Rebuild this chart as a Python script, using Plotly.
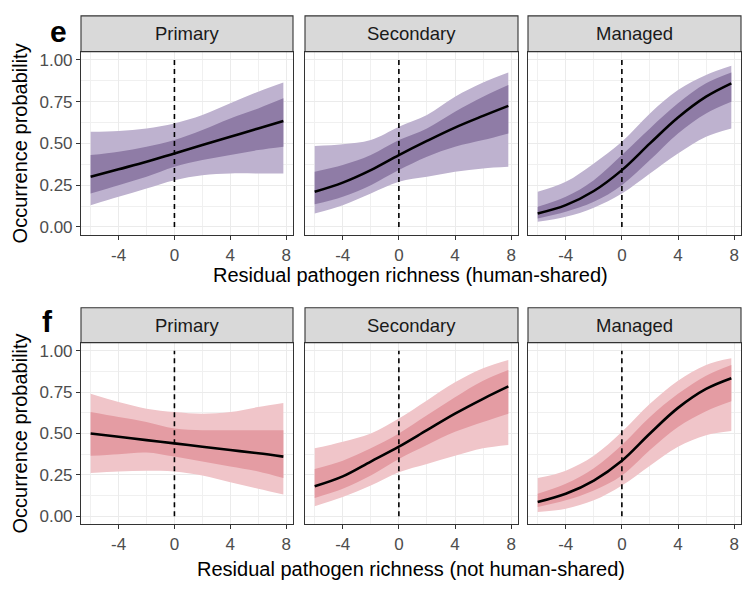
import plotly.graph_objects as go

# ---------------- data ----------------
x_vals = [-6, -4, -2, 0, 2, 4, 6, 7.8]
habitats = ["Primary", "Secondary", "Managed"]
x_ticks = [-4, 0, 4, 8]
y_ticks = [0.0, 0.25, 0.5, 0.75, 1.0]
y_tick_labels = ["0.00", "0.25", "0.50", "0.75", "1.00"]

# panel e (human-shared)
e_primary_fit = [0.30, 0.345, 0.39, 0.44, 0.49, 0.54, 0.59, 0.635]
e_primary_in_lo = [0.20, 0.25, 0.30, 0.36, 0.40, 0.43, 0.46, 0.48]
e_primary_in_hi = [0.43, 0.45, 0.48, 0.52, 0.58, 0.65, 0.71, 0.77]
e_primary_out_lo = [0.13, 0.18, 0.23, 0.28, 0.31, 0.32, 0.32, 0.32]
e_primary_out_hi = [0.57, 0.575, 0.59, 0.62, 0.67, 0.74, 0.81, 0.865]

e_secondary_fit = [0.21, 0.265, 0.34, 0.43, 0.515, 0.595, 0.665, 0.725]
e_secondary_in_lo = [0.135, 0.18, 0.25, 0.34, 0.42, 0.48, 0.52, 0.56]
e_secondary_in_hi = [0.33, 0.37, 0.43, 0.52, 0.59, 0.69, 0.78, 0.85]
e_secondary_out_lo = [0.08, 0.13, 0.20, 0.27, 0.30, 0.33, 0.35, 0.36]
e_secondary_out_hi = [0.485, 0.495, 0.52, 0.60, 0.67, 0.78, 0.865, 0.925]

e_managed_fit = [0.08, 0.13, 0.215, 0.34, 0.50, 0.655, 0.78, 0.86]
e_managed_in_lo = [0.05, 0.09, 0.15, 0.25, 0.40, 0.56, 0.68, 0.75]
e_managed_in_hi = [0.12, 0.18, 0.28, 0.43, 0.59, 0.74, 0.86, 0.925]
e_managed_out_lo = [0.03, 0.06, 0.115, 0.20, 0.32, 0.44, 0.54, 0.59]
e_managed_out_hi = [0.21, 0.27, 0.38, 0.51, 0.68, 0.82, 0.91, 0.965]

# panel f (not human-shared)
f_primary_fit = [0.50, 0.48, 0.46, 0.44, 0.42, 0.40, 0.38, 0.36]
f_primary_in_lo = [0.365, 0.375, 0.385, 0.36, 0.33, 0.30, 0.27, 0.23]
f_primary_in_hi = [0.63, 0.60, 0.57, 0.53, 0.52, 0.52, 0.52, 0.52]
f_primary_out_lo = [0.26, 0.27, 0.275, 0.27, 0.245, 0.205, 0.165, 0.13]
f_primary_out_hi = [0.74, 0.69, 0.65, 0.63, 0.62, 0.63, 0.66, 0.685]

f_secondary_fit = [0.18, 0.24, 0.33, 0.42, 0.52, 0.62, 0.71, 0.785]
f_secondary_in_lo = [0.11, 0.165, 0.245, 0.345, 0.43, 0.51, 0.57, 0.62]
f_secondary_in_hi = [0.285, 0.335, 0.41, 0.50, 0.61, 0.72, 0.82, 0.885]
f_secondary_out_lo = [0.06, 0.115, 0.185, 0.265, 0.315, 0.365, 0.41, 0.43]
f_secondary_out_hi = [0.41, 0.45, 0.50, 0.59, 0.70, 0.81, 0.895, 0.945]

f_managed_fit = [0.085, 0.135, 0.215, 0.335, 0.50, 0.655, 0.77, 0.835]
f_managed_in_lo = [0.055, 0.095, 0.155, 0.245, 0.40, 0.54, 0.635, 0.695]
f_managed_in_hi = [0.135, 0.195, 0.29, 0.43, 0.60, 0.74, 0.85, 0.915]
f_managed_out_lo = [0.025, 0.045, 0.095, 0.185, 0.305, 0.42, 0.49, 0.515]
f_managed_out_hi = [0.23, 0.275, 0.365, 0.51, 0.68, 0.82, 0.915, 0.955]

panels = [
    (e_primary_fit, e_primary_in_lo, e_primary_in_hi, e_primary_out_lo, e_primary_out_hi),
    (e_secondary_fit, e_secondary_in_lo, e_secondary_in_hi, e_secondary_out_lo, e_secondary_out_hi),
    (e_managed_fit, e_managed_in_lo, e_managed_in_hi, e_managed_out_lo, e_managed_out_hi),
    (f_primary_fit, f_primary_in_lo, f_primary_in_hi, f_primary_out_lo, f_primary_out_hi),
    (f_secondary_fit, f_secondary_in_lo, f_secondary_in_hi, f_secondary_out_lo, f_secondary_out_hi),
    (f_managed_fit, f_managed_in_lo, f_managed_in_hi, f_managed_out_lo, f_managed_out_hi),
]

# ---------------- styling / layout ----------------
W, H = 756, 589
FONT = "Liberation Sans, Arial, sans-serif"
purple_out, purple_in = "rgb(190,178,207)", "rgb(143,124,166)"
red_out, red_in = "rgb(240,197,201)", "rgb(228,156,163)"

col_px = [(81, 293), (305, 518), (528, 741)]
row_px = [(50.9, 235.4), (343.4, 526.0)]
strip_px = [(15.0, 50.9), (308.3, 343.4)]

def px_x(v):
    return v / W

def px_y(v):
    return 1 - v / H

fig = go.Figure()
layout = dict(
    width=W, height=H, margin=dict(l=0, r=0, t=0, b=0),
    paper_bgcolor="white", plot_bgcolor="white",
    showlegend=False, font=dict(family=FONT),
)
shapes, annotations = [], []

for i, (fit, in_lo, in_hi, out_lo, out_hi) in enumerate(panels):
    r, c = divmod(i, 3)
    n = i + 1
    xa = "x" if n == 1 else f"x{n}"
    ya = "y" if n == 1 else f"y{n}"
    c_out, c_in = (purple_out, purple_in) if r == 0 else (red_out, red_in)

    for lo, hi, col in ((out_lo, out_hi, c_out), (in_lo, in_hi, c_in)):
        fig.add_trace(go.Scatter(x=x_vals, y=lo, mode="lines", line=dict(width=0, shape="spline", color=col),
                                 xaxis=xa, yaxis=ya, hoverinfo="skip"))
        fig.add_trace(go.Scatter(x=x_vals, y=hi, mode="lines", line=dict(width=0, shape="spline", color=col),
                                 fill="tonexty", fillcolor=col, xaxis=xa, yaxis=ya, hoverinfo="skip"))
    fig.add_trace(go.Scatter(x=x_vals, y=fit, mode="lines", line=dict(color="black", width=2.6, shape="spline"),
                             xaxis=xa, yaxis=ya))

    x0p, x1p = col_px[c]
    y0p, y1p = row_px[r]
    axis_common = dict(showline=True, mirror=True, linecolor="#333333", linewidth=1.1,
                       gridcolor="#ebebeb", gridwidth=1.1, zeroline=False,
                       ticks="outside", ticklen=4, tickwidth=1.1, tickcolor="#333333",
                       tickfont=dict(family=FONT, size=17, color="#4d4d4d"))
    layout["xaxis" if n == 1 else f"xaxis{n}"] = dict(
        axis_common, domain=[px_x(x0p), px_x(x1p)], anchor=ya, range=[-6.69, 8.49],
        tickmode="array", tickvals=x_ticks, ticktext=[str(t) for t in x_ticks],
        minor=dict(tickvals=[-6, -2, 2, 6], showgrid=True, gridcolor="#f0f0f0", gridwidth=0.7, ticks=""),
    )
    layout["yaxis" if n == 1 else f"yaxis{n}"] = dict(
        axis_common, domain=[px_y(y1p), px_y(y0p)], anchor=xa, range=[-0.05, 1.05],
        tickmode="array", tickvals=y_ticks, ticktext=y_tick_labels,
        showticklabels=(c == 0), ticks="outside" if c == 0 else "",
        minor=dict(tickvals=[0.125, 0.375, 0.625, 0.875], showgrid=True, gridcolor="#f0f0f0", gridwidth=0.7, ticks=""),
    )
    # dashed reference line at x = 0
    shapes.append(dict(type="line", xref=xa, yref=f"{ya} domain", x0=0, x1=0, y0=0.045, y1=0.955,
                       line=dict(color="black", width=1.6, dash="5px,4px")))
    # strip
    s0, s1 = strip_px[r]
    shapes.append(dict(type="rect", xref="paper", yref="paper", x0=px_x(x0p), x1=px_x(x1p),
                       y0=px_y(s1), y1=px_y(s0), fillcolor="#d9d9d9", line=dict(color="#333333", width=1.1),
                       layer="above"))
    annotations.append(dict(xref="paper", yref="paper", x=px_x((x0p + x1p) / 2), y=px_y((s0 + s1) / 2),
                            text=habitats[c], showarrow=False, xanchor="center", yanchor="middle",
                            font=dict(family=FONT, size=18.5, color="#1a1a1a")))

# axis titles and panel letters
x_titles = ["Residual pathogen richness (human-shared)", "Residual pathogen richness (not human-shared)"]
x_title_y = [275, 571]
letters = ["e", "f"]
letter_pos = [(58, 31), (47, 322)]
for r in range(2):
    y0p, y1p = row_px[r]
    annotations.append(dict(xref="paper", yref="paper", x=px_x(411), y=px_y(x_title_y[r]),
                            text=x_titles[r], showarrow=False, xanchor="center", yanchor="middle",
                            font=dict(family=FONT, size=20, color="black")))
    annotations.append(dict(xref="paper", yref="paper", x=px_x(20), y=px_y((y0p + y1p) / 2),
                            text="Occurrence probability", textangle=-90, showarrow=False,
                            xanchor="center", yanchor="middle",
                            font=dict(family=FONT, size=20, color="black")))
    lx, ly = letter_pos[r]
    annotations.append(dict(xref="paper", yref="paper", x=px_x(lx), y=px_y(ly),
                            text=f"<b>{letters[r]}</b>", showarrow=False, xanchor="center", yanchor="middle",
                            font=dict(family=FONT, size=30, color="black")))

layout["shapes"] = shapes
layout["annotations"] = annotations
fig.update_layout(**layout)
fig.write_html("out.html")
